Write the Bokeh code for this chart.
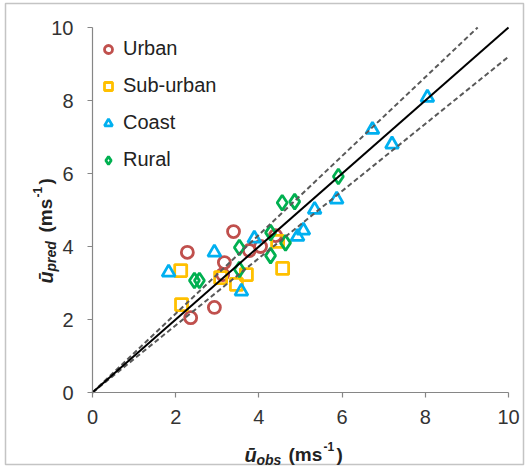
import math
from bokeh.plotting import figure
from bokeh.models import (Range1d, Label, BoxAnnotation, Legend, LegendItem,
                          FixedTicker)
from bokeh.embed import file_html
from bokeh.resources import INLINE

# ---- data ----
urban_x = [2.28, 3.39, 3.77, 4.04, 3.17, 3.13, 2.93, 2.36, 4.40]
urban_y = [3.84, 4.41, 3.89, 4.00, 3.56, 3.23, 2.33, 2.05, 4.30]
sub_x = [2.12, 2.14, 3.08, 3.70, 3.46, 4.45, 4.57]
sub_y = [3.34, 2.41, 3.15, 3.23, 2.96, 4.14, 3.40]
coast_x = [1.83, 2.93, 3.58, 3.89, 4.93, 5.07, 5.34, 5.87, 6.73, 7.20, 8.05]
coast_y = [3.29, 3.84, 2.77, 4.22, 4.27, 4.44, 5.01, 5.29, 7.20, 6.80, 8.08]
rural_x = [2.45, 2.57, 3.53, 3.53, 4.28, 4.28, 4.64, 4.56, 4.86, 5.91]
rural_y = [3.07, 3.07, 3.97, 3.37, 4.38, 3.75, 4.10, 5.20, 5.23, 5.92]

line_x = [0, 10]
upper_ratio = 1.08
lower_ratio = 0.92
ticks = [0, 2, 4, 6, 8, 10]

# ---- layout: the frame covers the whole canvas, axes sit at fixed spots ----
W, H = 526, 468
X0PX, Y0PX = 92, 392          # pixel of data (0, 0)
SX, SY = 41.6, 36.5           # pixels per data unit


def X(px):
    return (px - X0PX) / SX


def Y(py):
    return (Y0PX - py) / SY


p = figure(width=W, height=H, x_range=Range1d(X(0), X(W)),
           y_range=Range1d(Y(H), Y(0)),
           output_backend="svg", toolbar_location=None,
           min_border=0)
p.outline_line_color = None
p.xgrid.grid_line_color = None
p.ygrid.grid_line_color = None
p.background_fill_color = "white"
p.border_fill_color = "white"

p.xaxis.fixed_location = 0
p.yaxis.fixed_location = 0
for ax in (p.xaxis[0], p.yaxis[0]):
    ax.ticker = FixedTicker(ticks=ticks)
    ax.bounds = (0, 10)
    ax.axis_line_color = "#868686"
    ax.axis_line_width = 1.2
    ax.major_tick_line_color = "#868686"
    ax.major_tick_line_width = 1.2
    ax.major_tick_out = 5
    ax.major_tick_in = 0
    ax.minor_tick_line_color = None
    ax.major_label_text_font = "Liberation Sans"
    ax.major_label_text_font_size = "20px"
    ax.major_label_text_color = "#333333"
p.xaxis.major_label_standoff = 12
p.yaxis.major_label_standoff = 14

COL_R = "#C0504D"
COL_O = "#FFC000"
COL_B = "#00B0F0"
COL_G = "#00B050"

r_u = p.scatter(urban_x, urban_y, marker="circle", size=12, fill_color=None,
                line_color=COL_R, line_width=2.8)
r_s = p.scatter(sub_x, sub_y, marker="square", size=12, fill_color=None,
                line_color=COL_O, line_width=2.8)
r_c = p.scatter(coast_x, coast_y, marker="triangle", size=13, fill_color=None,
                line_color=COL_B, line_width=2.8)
r_r = p.scatter(rural_x, rural_y, marker="diamond", size=15, fill_color=None,
                line_color=COL_G, line_width=2.8)

# 1:1 line and +-8% lines
up_x = [line_x[0], line_x[1] / upper_ratio]
up_y = [v * upper_ratio for v in up_x]
lo_y = [v * lower_ratio for v in line_x]
p.line(up_x, up_y, line_color="#595959", line_width=2, line_dash="5 3")
p.line(line_x, lo_y, line_color="#595959", line_width=2, line_dash="5 3")
p.line(line_x, line_x, line_color="black", line_width=2)

legend = Legend(items=[LegendItem(label="Urban", renderers=[r_u]),
                       LegendItem(label="Sub-urban", renderers=[r_s]),
                       LegendItem(label="Coast", renderers=[r_c]),
                       LegendItem(label="Rural", renderers=[r_r])],
                location=(98, 297))
legend.border_line_color = None
legend.background_fill_alpha = 0
legend.label_text_font = "Liberation Sans"
legend.label_text_font_size = "20px"
legend.label_text_color = "#222222"
legend.glyph_width = 20
legend.glyph_height = 20
legend.label_height = 20
legend.spacing = 14
legend.padding = 5
legend.margin = 0
legend.label_standoff = 5
p.add_layout(legend)

# ---- axis titles built from pieces ----
F = "Liberation Sans"


def lab(text, px, py, size, style, angle=0.0):
    p.add_layout(Label(x=X(px), y=Y(py), text=text, text_font=F,
                       text_font_size=size, text_font_style=style,
                       text_color="#222222", text_baseline="alphabetic",
                       text_align="left", angle=angle))


# x title
lab("ū", 244, 454, "20px", "bold italic")
lab("obs", 256, 459, "14px", "bold italic")
lab("(ms", 288, 454, "19px", "bold")
lab("-1", 323, 446, "12px", "bold")
lab(")", 336, 454, "19px", "bold")

# y title (rotated)
a = math.pi / 2
lab("ū", 45, 283, "20px", "bold italic", a)
lab("pred", 50, 271, "14px", "bold italic", a)
lab("(ms", 45, 232, "19px", "bold", a)
lab("-1", 37, 197, "12px", "bold", a)
lab(")", 45, 184, "19px", "bold", a)

# outer frame of the picture
p.add_layout(BoxAnnotation(left=X(5), right=X(523), top=Y(3), bottom=Y(464),
                           fill_alpha=0, line_color="#3a3a3a", line_width=1.5))

open("out.html", "w").write(file_html(p, INLINE))
